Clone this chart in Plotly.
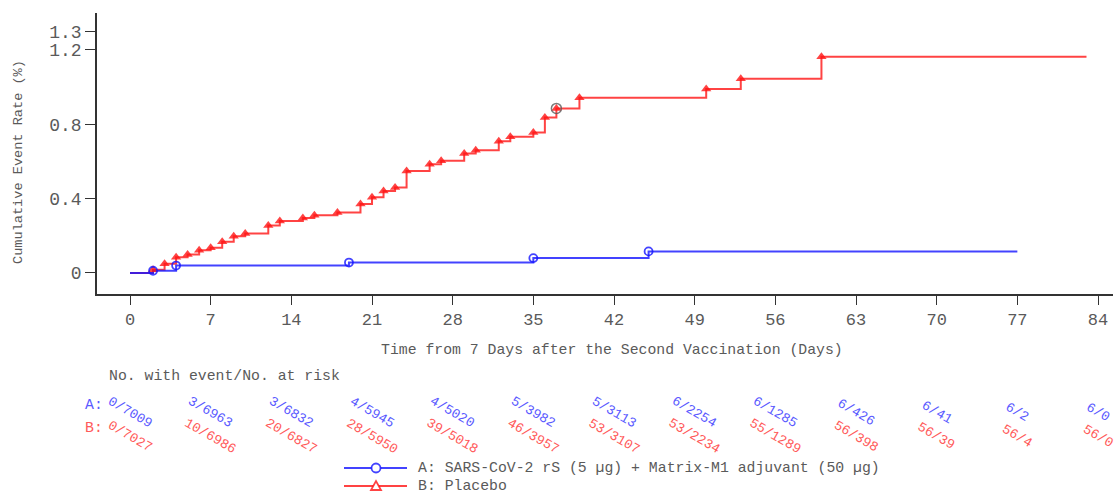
import plotly.graph_objects as go

# ---------------- data ----------------
red_days = [2, 3, 4, 5, 6, 7, 8, 9, 10, 12, 13, 15, 16, 18, 20, 21, 22, 23, 24,
            26, 27, 29, 30, 32, 33, 35, 36, 37, 39, 50, 53, 60]
red_vals = [0.018, 0.050, 0.085, 0.100, 0.122, 0.136, 0.168, 0.197, 0.212, 0.256,
            0.280, 0.296, 0.311, 0.325, 0.371, 0.407, 0.441, 0.460, 0.549, 0.585,
            0.603, 0.642, 0.660, 0.709, 0.732, 0.755, 0.836, 0.885, 0.942, 0.990,
            1.045, 1.163]
red_end = 83

blue_days = [2, 4, 19, 35, 45]
blue_vals = [0.012, 0.040, 0.056, 0.080, 0.116]
blue_end = 77

highlight_day = [37]
highlight_val = [0.885]

x_ticks = [0, 7, 14, 21, 28, 35, 42, 49, 56, 63, 70, 77, 84]
y_ticks = [0, 0.4, 0.8, 1.2, 1.3]
y_ticktext = ["0", "0.4", "0.8", "1.2", "1.3"]

risk_a = ["0/7009", "3/6963", "3/6832", "4/5945", "4/5020", "5/3982", "5/3113",
          "6/2254", "6/1285", "6/426", "6/41", "6/2", "6/0"]
risk_b = ["0/7027", "10/6986", "20/6827", "28/5950", "39/5018", "46/3957", "53/3107",
          "53/2234", "55/1289", "56/398", "56/39", "56/4", "56/0"]

legend_a = "A: SARS-CoV-2 rS (5 µg) + Matrix-M1 adjuvant (50 µg)"
legend_b = "B: Placebo"

# ---------------- style ----------------
FONT = "Liberation Mono, Courier New, monospace"
BLUE = "rgba(20,20,255,0.8)"
RED = "rgba(255,20,20,0.8)"
BLUE_TXT = "#5a5aff"
RED_TXT = "#ff5a5a"
GREY = "#5a5a5a"

W, H = 1115, 493
L, R, T, B = 97, 2, 13, 199
plot_h = H - T - B


def py(pix):
    """pixel y (from top) -> paper coordinate"""
    return (H - B - pix) / plot_h


def px(pix):
    return (pix - L) / (W - L - R)


fig = go.Figure()

# step lines
fig.add_trace(go.Scatter(
    x=[0] + red_days + [red_end], y=[0] + red_vals + [red_vals[-1]],
    mode="lines", line=dict(color=RED, width=2, shape="hv"), showlegend=False,
    hoverinfo="skip"))
fig.add_trace(go.Scatter(
    x=[0] + blue_days + [blue_end], y=[0] + blue_vals + [blue_vals[-1]],
    mode="lines", line=dict(color=BLUE, width=2, shape="hv"), showlegend=False,
    hoverinfo="skip"))
# markers
fig.add_trace(go.Scatter(
    x=red_days, y=red_vals, mode="markers",
    marker=dict(symbol="triangle-up", size=9, color=RED, line=dict(width=0)),
    showlegend=False))
fig.add_trace(go.Scatter(
    x=blue_days, y=blue_vals, mode="markers",
    marker=dict(symbol="circle-open", size=8, color=BLUE, line=dict(width=1.8)),
    showlegend=False))
fig.add_trace(go.Scatter(
    x=highlight_day, y=highlight_val, mode="markers",
    marker=dict(symbol="circle-open", size=10, color="rgba(90,90,90,0.8)",
                line=dict(width=1.5)),
    showlegend=False))

annotations = []
# axis titles
annotations.append(dict(text="Time from 7 Days after the Second Vaccination (Days)",
                        xref="paper", yref="paper", x=px(612), y=py(350),
                        xanchor="center", yanchor="middle", showarrow=False,
                        font=dict(family=FONT, size=14.8, color=GREY)))
annotations.append(dict(text="Cumulative Event Rate (%)", textangle=-90,
                        xref="paper", yref="paper", x=px(18), y=py(162),
                        xanchor="center", yanchor="middle", showarrow=False,
                        font=dict(family=FONT, size=13.6, color=GREY)))
# risk table
annotations.append(dict(text="No. with event/No. at risk", xref="paper", yref="paper",
                        x=px(107), y=py(376), xanchor="left", yanchor="middle",
                        showarrow=False, font=dict(family=FONT, size=14.8, color=GREY)))
annotations.append(dict(text="A:", xref="paper", yref="paper", x=px(105), y=py(405),
                        xanchor="right", yanchor="middle", showarrow=False,
                        font=dict(family=FONT, size=14.8, color=BLUE_TXT)))
annotations.append(dict(text="B:", xref="paper", yref="paper", x=px(105), y=py(428),
                        xanchor="right", yanchor="middle", showarrow=False,
                        font=dict(family=FONT, size=14.8, color=RED_TXT)))
for xv, ta, tb in zip(x_ticks, risk_a, risk_b):
    annotations.append(dict(text=ta, x=xv, xref="x", yref="paper", y=py(412),
                            xanchor="center", yanchor="middle", textangle=30,
                            showarrow=False,
                            font=dict(family=FONT, size=13.5, color=BLUE_TXT)))
    annotations.append(dict(text=tb, x=xv, xref="x", yref="paper", y=py(436),
                            xanchor="center", yanchor="middle", textangle=30,
                            showarrow=False,
                            font=dict(family=FONT, size=13.5, color=RED_TXT)))
# legend text
annotations.append(dict(text=legend_a, xref="paper", yref="paper", x=px(416), y=py(468),
                        xanchor="left", yanchor="middle", showarrow=False,
                        font=dict(family=FONT, size=14.8, color=GREY)))
annotations.append(dict(text=legend_b, xref="paper", yref="paper", x=px(416), y=py(485.5),
                        xanchor="left", yanchor="middle", showarrow=False,
                        font=dict(family=FONT, size=14.8, color=GREY)))

shapes = []
for yy, col in [(468, BLUE), (486, RED)]:
    shapes.append(dict(type="line", xref="paper", yref="paper",
                       x0=px(344), x1=px(407), y0=py(yy), y1=py(yy),
                       line=dict(color=col, width=2)))
# legend glyphs
shapes.append(dict(type="circle", xref="paper", yref="paper", xsizemode="pixel",
                   ysizemode="pixel", xanchor=px(376), yanchor=py(468),
                   x0=-4.5, x1=4.5, y0=-4.5, y1=4.5, fillcolor="white",
                   line=dict(color=BLUE, width=1.8)))
shapes.append(dict(type="path", xref="paper", yref="paper", xsizemode="pixel",
                   ysizemode="pixel", xanchor=px(376), yanchor=py(486),
                   path="M -5,-4 L 5,-4 L 0,5 Z", fillcolor="white",
                   line=dict(color=RED, width=1.8)))

fig.update_layout(
    width=W, height=H, margin=dict(l=L, r=R, t=T, b=B, pad=0),
    paper_bgcolor="white", plot_bgcolor="white",
    font=dict(family=FONT, color=GREY),
    showlegend=False,
    annotations=annotations, shapes=shapes,
    xaxis=dict(range=[-2.864, 85.3], tickvals=x_ticks, ticks="outside", ticklen=9,
               tickwidth=1.2, tickcolor="#333", showline=True, linecolor="#333",
               linewidth=1.5, showgrid=False, zeroline=False,
               tickfont=dict(family=FONT, size=17, color=GREY)),
    yaxis=dict(range=[-0.113, 1.398], tickvals=y_ticks, ticktext=y_ticktext,
               ticks="outside", ticklen=10, tickwidth=1.2, tickcolor="#333",
               showline=True, linecolor="#333", linewidth=1.5, showgrid=False,
               zeroline=False, tickfont=dict(family=FONT, size=18, color=GREY)),
)

fig.write_html("out.html", config={"displayModeBar": False},
               post_script="document.body.style.margin='0px';"
                           "document.body.style.overflow='hidden';")
